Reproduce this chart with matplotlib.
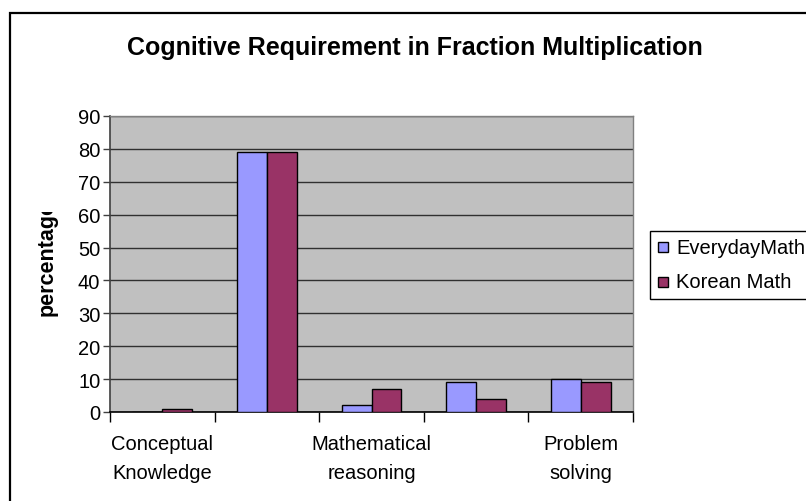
import matplotlib
matplotlib.use("Agg")
import matplotlib.pyplot as plt
from matplotlib.patches import Rectangle
from matplotlib.transforms import Bbox, TransformedBbox
import numpy as np

plt.rcParams["font.family"] = ["Liberation Sans", "DejaVu Sans"]

# Data
title = "Cognitive Requirement in Fraction Multiplication"
category_labels = ["Conceptual\nKnowledge", "", "Mathematical\nreasoning", "", "Problem\nsolving"]
series_names = ["EverydayMath", "Korean Math"]
everyday_math = [0, 79, 2, 9, 10]
korean_math = [1, 79, 7, 4, 9]
y_ticks = [0, 10, 20, 30, 40, 50, 60, 70, 80, 90]
y_label = "percentage"

W, H = 806, 502
fig = plt.figure(figsize=(W / 100, H / 100), dpi=100)
fig.patch.set_facecolor("white")


def fx(px):
    return px / W


def fy(py):
    return 1 - py / H


# Chart frame around the whole figure
fig.patches.append(Rectangle((fx(10), fy(H + 20)), fx(W + 20) - fx(10), fy(14) - fy(H + 20),
                             transform=fig.transFigure, fill=False, edgecolor="black",
                             linewidth=1.6, zorder=0))

left, right, top, bottom = 110, 633, 117, 413
ax = fig.add_axes([fx(left), fy(bottom), fx(right) - fx(left), fy(top) - fy(bottom)])
ax.set_facecolor("#C0C0C0")

colors = ["#9999FF", "#993366"]
n = len(everyday_math)
x = np.arange(n) + 0.5
bw = 1 / 3.5
ax.bar(x - bw / 2, everyday_math, width=bw, color=colors[0], edgecolor="black", linewidth=1.0, zorder=3)
ax.bar(x + bw / 2, korean_math, width=bw, color=colors[1], edgecolor="black", linewidth=1.0, zorder=3)

ax.set_xlim(0, n)
ax.set_ylim(0, 90)
ax.set_yticks(y_ticks)
ax.set_yticklabels([str(v) for v in y_ticks], fontsize=14.5)
ax.yaxis.grid(True, color="#303030", linewidth=1.0, zorder=1)
ax.set_axisbelow(True)

ax.set_xticks(np.arange(n + 1))
ax.set_xticklabels([])
ax.set_xticks(x, minor=True)
ax.set_xticklabels(category_labels, minor=True, fontsize=14.5, linespacing=1.65)
ax.tick_params(axis="x", which="major", direction="out", length=7, width=1, color="black")
ax.tick_params(axis="x", which="minor", length=0, pad=16)
ax.tick_params(axis="y", direction="out", length=5, width=1, color="#404040", pad=2)

for s in ["top", "right"]:
    ax.spines[s].set_color("#808080")
    ax.spines[s].set_linewidth(1.0)
ax.spines["left"].set_color("#404040")
ax.spines["left"].set_linewidth(1.2)
ax.spines["bottom"].set_color("black")
ax.spines["bottom"].set_linewidth(1.2)

fig.text(fx(415), fy(48), title, ha="center", va="center", fontsize=18, fontweight="bold")

# Axis title, cut off at the top
yl = fig.text(fx(47), fy(316), y_label, rotation=90, ha="center", va="bottom",
              fontsize=15.5, fontweight="bold")
yl.set_clip_on(True)
yl.set_clip_box(TransformedBbox(Bbox([[0, fy(H)], [1, fy(213)]]), fig.transFigure))

# Legend
fig.patches.append(Rectangle((fx(650), fy(300)), fx(W + 20) - fx(650), fy(232) - fy(300),
                             transform=fig.transFigure, facecolor="white", edgecolor="black",
                             linewidth=1.0))
for i, (name, c) in enumerate(zip(series_names, colors)):
    cy = 248 + i * 35
    fig.patches.append(Rectangle((fx(658), fy(cy + 5)), fx(668) - fx(658), fy(cy - 5) - fy(cy + 5),
                                 transform=fig.transFigure, facecolor=c, edgecolor="black",
                                 linewidth=1.0))
    fig.text(fx(676), fy(cy), name, ha="left", va="center", fontsize=14.5)

fig.savefig("out.png", dpi=100)
